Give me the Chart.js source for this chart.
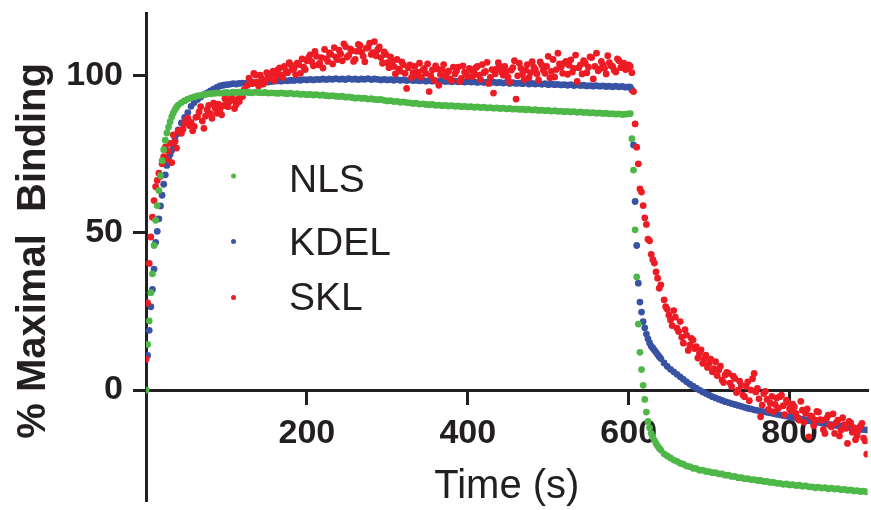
<!DOCTYPE html>
<html><head><meta charset="utf-8">
<script src="https://cdn.jsdelivr.net/npm/chart.js@4"></script>
<style>html,body{margin:0;padding:0;background:#fff}canvas{display:block}</style>
</head><body>
<canvas id="c" width="871" height="510"></canvas>
<script>
// ---- data ----
const times = [
  0,2,4,6,8,10,12,14,16,18,20,22,24,26,28,30,32,34,36,38,40,
  44,48,52,56,60,64,68,72,76,80,
  84,88,92,96,100,104,108,112,116,120,
  124,128,132,136,140,144,148,152,156,160,
  164,168,172,176,180,184,188,192,196,200,
  204,208,212,216,220,224,228,232,236,240,
  244,248,252,256,260,264,268,272,276,280,
  284,288,292,296,300,304,308,312,316,320,
  324,328,332,336,340,344,348,352,356,360,
  364,368,372,376,380,384,388,392,396,400,
  404,408,412,416,420,424,428,432,436,440,
  444,448,452,456,460,464,468,472,476,480,
  484,488,492,496,500,504,508,512,516,520,
  524,528,532,536,540,544,548,552,556,560,
  564,568,572,576,580,584,588,592,596,600,
  602,604,606,608,610,612,614,616,618,620,622,624,626,628,630,632,634,636,638,640,
  644,648,652,656,660,664,668,672,676,680,
  684,688,692,696,700,704,708,712,716,720,
  724,728,732,736,740,744,748,752,756,760,
  764,768,772,776,780,784,788,792,796,800,
  804,808,812,816,820,824,828,832,836,840,
  844,848,852,856,860,864,868,872,876,880,
  884,888,892,896
];

const nlsValues = [
  0,14.5,22,31,37,46,54,58.7,63.5,68.2,73,76.5,79.5,81.8,83.7,85.4,87,88.2,89.2,90,90.7,
  91.5,92.1,92.6,93.0,93.3,93.6,93.8,94.0,94.2,94.3,
  94.4,94.5,94.5,94.6,94.7,94.6,94.8,94.7,94.8,94.7,
  94.8,94.7,94.6,94.8,94.7,94.6,94.7,94.5,94.6,94.5,
  94.4,94.6,94.4,94.3,94.5,94.2,94.3,94.1,94.2,94.0,
  94.1,93.9,94.0,93.8,93.9,93.7,93.6,93.7,93.5,93.4,
  93.5,93.2,93.3,93.1,92.9,93.0,92.8,92.9,92.6,92.7,
  92.5,92.4,92.5,92.2,92.0,92.1,91.8,91.9,91.6,91.7,
  91.5,91.4,91.2,91.3,91.0,91.1,90.9,90.8,90.9,90.6,
  90.7,90.5,90.6,90.4,90.5,90.3,90.4,90.2,90.3,90.1,
  90.2,90.0,90.1,89.9,90.0,89.8,89.9,89.7,89.8,89.6,
  89.7,89.5,89.6,89.4,89.5,89.3,89.4,89.2,89.3,89.1,
  89.2,89.0,89.1,88.9,89.0,88.8,88.9,88.7,88.8,88.6,
  88.7,88.5,88.6,88.4,88.5,88.3,88.4,88.2,88.3,88.1,
  88.2,88.0,88.1,87.9,88.0,87.8,87.9,87.7,87.8,87.9,
  88.0,80,70,51,36,21,12,6.5,1.5,-3,-7,-10,-12,-13.8,-15,-16,-17,-17.8,-18.5,-19.1,
  -20.3,-21.0,-21.6,-22.3,-22.7,-23.3,-23.6,-24.2,-24.4,-24.9,
  -25.0,-25.5,-25.5,-25.9,-26.0,-26.3,-26.3,-26.7,-26.7,-27.1,
  -27.1,-27.5,-27.5,-27.9,-27.9,-28.2,-28.2,-28.5,-28.5,-28.8,
  -28.8,-29.1,-29.1,-29.4,-29.4,-29.7,-29.7,-30.0,-29.9,-30.2,
  -30.1,-30.4,-30.3,-30.6,-30.5,-30.8,-30.8,-31.1,-30.9,-31.2,
  -31.1,-31.4,-31.2,-31.5,-31.4,-31.7,-31.6,-31.9,-31.8,-32.1,
  -32.0,-32.3,-32.2,-32.4
];

const kdelValues = [
  0,11,19,26.5,32,38.5,47,50.5,54.5,58.6,62,65.5,68.5,71.5,73.5,75,76.3,77.5,79.5,81.3,82.8,
  85.0,86.8,88.3,90.3,91.5,92.5,93.3,94.0,94.6,95.2,
  95.8,96.3,96.8,97.0,97.2,97.3,97.5,97.4,97.6,97.7,
  97.6,97.8,97.9,97.8,98.0,97.9,98.1,98.0,98.2,98.3,
  98.4,98.3,98.5,98.4,98.6,98.5,98.7,98.6,98.8,98.7,
  98.9,98.7,98.9,98.8,99.0,98.8,99.0,98.9,99.1,98.9,
  99.0,98.8,99.1,98.9,99.0,98.8,99.0,98.9,99.1,98.8,
  99.0,98.9,98.7,98.9,98.7,98.8,98.6,98.8,98.6,98.7,
  98.5,98.7,98.5,98.6,98.4,98.6,98.3,98.5,98.3,98.4,
  98.2,98.4,98.2,98.3,98.1,98.3,98.1,98.2,98.0,98.2,
  98.0,98.1,97.9,98.1,97.9,98.0,97.8,98.0,97.8,97.9,
  97.7,97.9,97.6,97.8,97.6,97.7,97.5,97.7,97.4,97.6,
  97.4,97.5,97.3,97.5,97.2,97.4,97.2,97.3,97.1,97.2,
  97.0,97.2,96.9,97.1,96.9,97.0,96.8,96.9,96.7,96.9,
  96.7,96.8,96.6,96.7,96.5,96.7,96.5,96.6,96.4,96.5,
  96.4,95.5,78,60,46,34,28,24.8,21.8,19.8,17.8,16.3,15,14,13.3,12.7,12,11.3,10.6,10.0,
  8.6,7.5,6.6,5.8,5.0,4.2,3.4,2.6,1.9,1.2,
  0.6,0.0,-0.6,-1.1,-1.6,-2.1,-2.5,-2.9,-3.3,-3.7,
  -4.0,-4.3,-4.6,-4.9,-5.2,-5.5,-5.8,-6.0,-6.3,-6.5,
  -6.7,-6.9,-7.1,-7.3,-7.5,-7.7,-7.9,-8.1,-8.3,-8.5,
  -8.7,-8.9,-9.1,-9.3,-9.5,-9.7,-9.9,-10.1,-10.3,-10.5,
  -10.7,-10.9,-11.0,-11.2,-11.4,-11.5,-11.7,-11.9,-12.0,-12.2,
  -12.3,-12.5,-12.6,-12.7
];

const sklValues = [
  9.8,27.7,40.3,48.7,55,60.3,64.7,66.7,69,68,72,74.3,77.3,73.5,76,78.5,72.4,81.2,79,77,82.5,
  81.7,84.9,86.5,85.2,83.9,87.0,90.2,83.3,89.2,88.0,
  91.3,88.1,89.2,90.5,92.0,91.8,92.4,90.8,91.8,93.4,
  95.0,99.3,97.5,100.3,96.8,99.0,98.2,99.8,100.8,98.5,
  101.9,100.2,103.0,101.0,103.5,102.3,104.0,100.8,102.8,104.8,
  106.7,103.2,106.2,104.0,102.5,105.5,107.3,103.8,106.0,108.2,
  104.8,109.3,106.5,108.0,105.2,110.0,107.5,104.5,109.0,106.8,
  110.9,108.3,105.8,107.6,104.2,106.0,103.0,105.2,101.5,103.5,
  96.0,103.5,101.0,100.2,104.0,101.8,100.8,95.0,101.9,103.2,
  97.0,102.0,99.8,101.5,98.5,100.6,102.8,99.2,101.2,99.8,
  101.9,100.8,103.0,98.8,101.0,104.3,99.5,94.5,102.2,103.0,
  100.2,101.4,98.0,102.6,92.6,104.0,100.5,101.8,99.4,104.5,
  102.0,98.6,103.4,100.8,106.2,101.4,99.6,107.2,102.8,104.0,
  100.5,105.1,102.4,98.2,103.5,104.8,101.0,106.0,99.0,107.2,
  102.2,103.5,100.6,104.2,103.0,101.2,104.8,103.5,102.0,103.5,
  103.0,101.0,95.0,84.7,77.3,72.0,64.0,63.0,58.7,54.8,52.7,48.0,47.5,43.2,41.5,40.4,37.6,35.6,32.4,33.5,
  28.7,25.7,22.3,25.3,19.7,21.8,14.9,17.5,14.3,15.9,
  13.8,11.7,8.5,11.1,8.5,5.8,9.0,6.4,3.2,4.8,
  5.3,1.1,3.7,0.0,1.5,-2.1,2.6,0.0,5.3,0.5,
  -8.5,-1.1,-3.0,-4.2,-6.9,-2.5,-2.1,-5.0,-3.2,-6.0,
  -4.5,-7.4,-9.6,-6.4,-7.4,-14.9,-8.5,-9.6,-7.0,-9.6,
  -13.8,-8.0,-11.7,-13.8,-9.6,-12.7,-11.0,-17.0,-10.5,-12.0,
  -14.5,-11.5,-15.3,-20.4
];

// SKL is sampled more densely in its noisy stretches: the in-between readings
const sklExtraTimes = [
  46,50,54,58,62,66,70,74,78,82,
  86,90,94,98,102,106,110,114,118,122,
  126,130,134,138,142,146,150,154,158,162,
  166,170,174,178,182,186,190,194,198,202,
  206,210,214,218,222,226,230,234,238,242,
  246,250,254,258,262,266,270,274,278,282,
  286,290,294,298,302,306,310,314,318,322,
  326,330,334,338,342,346,350,354,358,362,
  366,370,374,378,382,386,390,394,398,402,
  406,410,414,418,422,426,430,434,438,442,
  446,450,454,458,462,466,470,474,478,482,
  486,490,494,498,502,506,510,514,518,522,
  526,530,534,538,542,546,550,554,558,562,
  566,570,574,578,582,586,590,594,598,
  646,650,654,658,662,666,670,674,678,682,
  686,690,694,698,702,706,710,714,718,722,
  726,730,734,738,742,746,750,754,758,762,
  766,770,774,778,782,786,790,794,798,802,
  806,810,814,818,822,826,830,834,838,842,
  846,850,854,858,862,866,870,874,878,882,
  886,890,894
];
const sklExtraValues = [
  83.0,86.0,84.2,82.5,86.8,88.5,85.6,87.2,90.6,86.5,
  89.8,91.0,87.6,92.8,90.2,93.5,89.6,92.5,94.2,95.6,
  97.0,98.2,100.8,98.0,100.2,97.4,101.0,99.2,101.5,100.0,
  102.5,99.5,101.6,104.2,102.0,100.4,103.6,105.4,102.0,105.8,
  104.5,107.8,103.5,105.8,108.4,104.6,106.8,109.0,105.2,107.0,
  110.2,106.0,108.6,104.6,107.8,109.6,106.2,108.8,110.4,107.4,
  106.4,109.2,104.0,106.8,102.6,104.6,100.6,102.2,104.4,100.8,
  102.6,99.4,103.0,101.2,99.6,102.4,103.8,100.0,98.6,102.2,
  100.4,103.6,101.0,99.0,102.8,101.6,98.2,103.2,100.6,102.4,
  99.8,102.6,100.2,103.6,101.4,97.6,102.0,100.6,104.2,101.2,
  103.0,99.6,101.8,104.8,100.0,102.4,98.8,103.6,101.0,102.8,
  100.6,104.4,101.8,103.0,99.4,105.2,102.0,103.8,100.8,104.6,
  103.4,101.2,106.6,102.6,100.6,104.0,102.8,105.8,103.0,101.6,
  104.6,102.4,106.4,103.2,101.8,105.4,102.6,104.0,102.2,
  26.5,23.8,20.5,23.2,18.6,16.8,19.2,12.6,16.4,13.2,
  10.2,12.8,10.0,7.2,9.8,6.8,4.6,7.6,2.4,5.6,
  2.2,4.4,-0.8,2.8,-1.6,1.2,-3.4,3.6,-0.6,-2.8,
  -4.8,-0.4,-6.2,-2.0,-4.6,-5.8,-1.6,-7.8,-4.0,-6.6,
  -5.4,-8.8,-3.6,-10.2,-6.0,-8.2,-11.4,-6.8,-9.4,-12.6,
  -9.0,-11.2,-7.6,-10.4,-14.6,-8.8,-12.2,-10.0,-13.4,-15.8,
  -12.8,-10.6,-16.2
];

const seriesNames = ['NLS', 'KDEL', 'SKL'];
const xTickValues = [200, 400, 600, 800];
const yTickValues = [0, 50, 100];
const xTitle = 'Time (s)';
const yTitle = ' % Maximal  Binding';

// ---- styling ----
const INK = '#231F20';
const COLORS = { NLS: '#4DB848', KDEL: '#3953A4', SKL: '#ED1C24' };
const FONT = "'Liberation Sans', Arial, Helvetica, sans-serif";

function toPoints(ts, vals) {
  const n = Math.min(ts.length, vals.length);
  const pts = [];
  for (let i = 0; i < n; i++) pts.push({ x: ts[i], y: vals[i] });
  return pts;
}

const pointMap = {
  NLS: toPoints(times, nlsValues),
  KDEL: toPoints(times, kdelValues),
  SKL: toPoints(times, sklValues).concat(toPoints(sklExtraTimes, sklExtraValues)).sort((a, b) => a.x - b.x)
};
// draw order: NLS on top, then SKL, then KDEL
const drawOrder = ['NLS', 'SKL', 'KDEL'];

const inlineLegend = {
  id: 'inlineLegend',
  afterDraw(chart) {
    const ctx = chart.ctx;
    const rows = [
      { name: seriesNames[0], dotY: 176, baseY: 191.5 },
      { name: seriesNames[1], dotY: 241.5, baseY: 255 },
      { name: seriesNames[2], dotY: 297.5, baseY: 310 }
    ];
    ctx.save();
    ctx.font = '39px ' + FONT;
    ctx.textAlign = 'left';
    ctx.textBaseline = 'alphabetic';
    rows.forEach(r => {
      ctx.fillStyle = COLORS[r.name];
      ctx.beginPath();
      ctx.arc(233.5, r.dotY, 2.5, 0, Math.PI * 2);
      ctx.fill();
      ctx.fillStyle = INK;
      ctx.fillText(r.name, 289, r.baseY);
    });
    ctx.restore();
  }
};

Chart.defaults.font.family = FONT;

new Chart(document.getElementById('c'), {
  type: 'scatter',
  data: {
    datasets: drawOrder.map(name => ({
      label: name,
      data: pointMap[name],
      backgroundColor: COLORS[name],
      borderColor: COLORS[name],
      borderWidth: 0,
      pointRadius: 3.4,
      pointHoverRadius: 3.4,
      showLine: false
    }))
  },
  options: {
    responsive: false,
    animation: false,
    devicePixelRatio: 1,
    layout: { padding: { top: 13, right: 0, bottom: 10, left: 0 } },
    plugins: { legend: { display: false }, tooltip: { enabled: false } },
    scales: {
      x: {
        type: 'linear',
        position: { y: 0 },
        min: 0,
        max: 897,
        afterBuildTicks: s => { s.ticks = xTickValues.map(v => ({ value: v })); },
        afterFit: s => { s.paddingLeft = 0; s.paddingRight = 0; },
        ticks: {
          autoSkip: false, maxRotation: 0, padding: 10, color: INK,
          font: { size: 34, weight: 'bold', lineHeight: 1.2 }
        },
        grid: {
          display: true, drawOnChartArea: false, drawTicks: true,
          tickLength: 13, tickWidth: 3, tickColor: INK, lineWidth: 3, color: INK
        },
        border: { display: true, width: 3, color: INK },
        title: {
          display: true, text: xTitle, color: INK,
          font: { size: 40, weight: 'normal', lineHeight: 1.1 },
          padding: { top: 1, bottom: 0 }
        }
      },
      y: {
        type: 'linear',
        position: 'left',
        min: -35,
        max: 120,
        afterBuildTicks: s => { s.ticks = yTickValues.map(v => ({ value: v })); },
        afterFit: s => { s.width = 146; s.paddingTop = 0; s.paddingBottom = 0; },
        ticks: {
          autoSkip: false, padding: 10, color: INK,
          font: { size: 34, weight: 'bold', lineHeight: 1.2 }
        },
        grid: {
          display: true, drawOnChartArea: false, drawTicks: true,
          tickLength: 13, tickWidth: 3, tickColor: INK, lineWidth: 3, color: INK
        },
        border: { display: true, width: 3, color: INK },
        title: {
          display: true, text: yTitle, color: INK,
          font: { size: 40, weight: 'bold', lineHeight: 1.2 },
          padding: { top: 10, bottom: 0 }
        }
      }
    }
  },
  plugins: [inlineLegend]
});
</script>
</body></html>
